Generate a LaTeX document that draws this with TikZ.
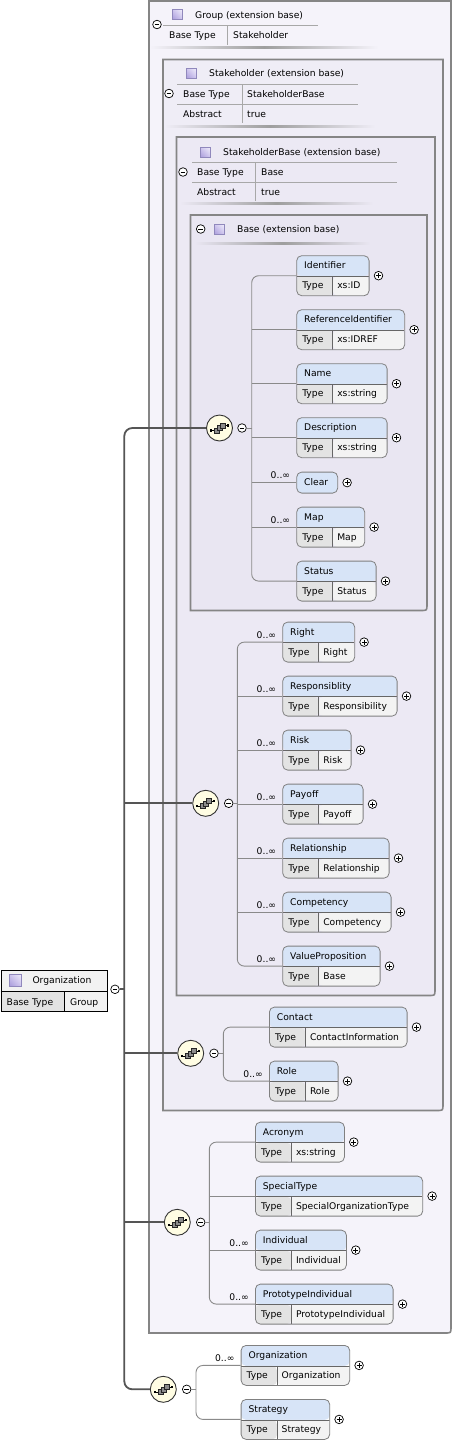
\documentclass[tikz,border=0pt]{standalone}
\usepackage{fontspec}
\setmainfont{DejaVu Sans}
\usetikzlibrary{calc,shadings}
\definecolor{hdrc}{HTML}{D7E4F7}
\definecolor{tyc}{HTML}{E3E3E3}
\definecolor{vac}{HTML}{F3F3F3}
\definecolor{bordc}{HTML}{808080}
\definecolor{connc}{HTML}{8A8A8A}
\definecolor{mainc}{HTML}{555555}
\definecolor{frc}{HTML}{858585}
\definecolor{fa}{HTML}{F5F3FA}
\definecolor{fb}{HTML}{EFEDF6}
\definecolor{fcc}{HTML}{ECE9F4}
\definecolor{fd}{HTML}{E9E6F2}
\definecolor{hlc}{HTML}{A8A8A8}
\definecolor{seqf}{HTML}{FFFDE3}
\definecolor{rooth}{HTML}{F2F2F2}
\definecolor{sqdark}{HTML}{A99BDB}
\definecolor{sqmid}{HTML}{CFC6EE}
\definecolor{sqlight}{HTML}{F1EEFB}
\definecolor{sqbord}{HTML}{9088BC}
\newcommand\fs{\fontsize{9.2}{11}\selectfont}
\tikzset{
  txt/.style={inner sep=0pt, anchor=base west, font=\fs, text=black},
  ebx/.style={rectangle, rounded corners=5pt, draw=bordc, line width=0.8pt, inner sep=0pt,
    minimum height=40pt, anchor=north west, path picture={
      \fill[hdrc] (path picture bounding box.north west) rectangle ([yshift=-20.5pt]path picture bounding box.north east);
      \fill[tyc] ([yshift=-20.5pt]path picture bounding box.north west) rectangle ([xshift=36pt]path picture bounding box.south west);
      \fill[vac] ([xshift=36pt,yshift=-20.5pt]path picture bounding box.north west) rectangle (path picture bounding box.south east);
      \draw[draw=black!60, line width=0.8pt] ([yshift=-20.5pt]path picture bounding box.north west) -- ([yshift=-20.5pt]path picture bounding box.north east);
      \draw[draw=black!60, line width=0.8pt] ([xshift=36pt,yshift=-20.5pt]path picture bounding box.north west) -- ([xshift=36pt]path picture bounding box.south west);
    }},
  obx/.style={rectangle, rounded corners=5pt, draw=bordc, line width=0.8pt, inner sep=0pt,
    minimum height=21pt, anchor=north west, fill=hdrc},
  pmc/.style={circle, draw=black, fill=white, line width=0.7pt, inner sep=0pt, minimum size=8.6pt},
  pml/.style={draw=black, line width=0.7pt},
  seqc/.style={circle, draw=black!80, fill=seqf, line width=0.9pt, inner sep=0pt, minimum size=26pt},
  conn/.style={draw=connc, line width=0.9pt},
  mainl/.style={draw=mainc, line width=1.8pt},
  hline/.style={draw=hlc, line width=0.8pt},
  sqicon/.style={draw=sqbord, line width=0.5pt},
}
\newcommand\ebox[6]{%
  \node[ebx, minimum width=#4pt] (#1) at (#2,#3) {};
  \node[txt] at ($(#2,#3)+(7.7,13.6)$) {#5};
  \node[txt] at ($(#2,#3)+(5.8,33.6)$) {Type};
  \node[txt] at ($(#2,#3)+(40.8,33.6)$) {#6};
}
\newcommand\onebox[5]{%
  \node[obx, minimum width=#4pt] (#1) at (#2,#3) {};
  \node[txt] at ($(#2,#3)+(7.7,13.9)$) {#5};
}
\newcommand\plusat[2]{%
  \node[pmc] (#1) at (#2) {};
  \draw[pml] ($(#1)+(-2.4,0)$) -- ($(#1)+(2.4,0)$);
  \draw[pml] ($(#1)+(0,-2.4)$) -- ($(#1)+(0,2.4)$);
}
\newcommand\minusat[2]{%
  \node[pmc] (#1) at (#2) {};
  \draw[pml] ($(#1)+(-2.4,0)$) -- ($(#1)+(2.4,0)$);
}
\newcommand\mult[1]{\node[txt, anchor=base east] at ($(#1.west)+(-6,-4)$) {0..∞};}
\newcommand\seqat[3]{%
  \node[seqc] (#1) at (#2,#3) {};
  \begin{scope}[shift={(#2,#3)}]
    \draw[black, line width=0.6pt] (-8.5,2.5) -- (-4,2.5);
    \fill[black] (-9.6,1.4) rectangle (-7.4,3.6);
    \draw[black, line width=0.6pt] (4,-2.5) -- (8.5,-2.5);
    \fill[black] (7.4,-3.6) rectangle (9.6,-1.4);
    \filldraw[fill=black!45, draw=black!85, line width=0.5pt] (-5.5,0) rectangle (-0.5,5);
    \filldraw[fill=black!45, draw=black!85, line width=0.5pt] (-2.5,-2.5) rectangle (2.5,2.5);
    \filldraw[fill=black!45, draw=black!85, line width=0.5pt] (0.5,-5) rectangle (5.5,0);
  \end{scope}
}
\newcommand\sqat[3]{% x, y, size
  \shade[upper left=sqmid, upper right=sqlight, lower left=sqdark, lower right=sqmid]
    (#1,#2) rectangle (#1+#3,#2+#3);
  \draw[sqicon] (#1,#2) rectangle (#1+#3,#2+#3);
}
\newcommand\frameat[5]{%
  \filldraw[fill=#5, draw=frc, line width=1.6pt]
    (#1,#2) -- (#3,#2) -- (#3,#4-6) .. controls (#3,#4) .. (#3-6,#4) -- (#1,#4) -- cycle;
}
\newcommand\hshadow[4]{%
  \shade[left color=#4, right color=#4, middle color=black!38] (#1,#3-1) rectangle (#2,#3+1);
}
\begin{document}
\begin{tikzpicture}[x=1pt,y=-1pt]
\useasboundingbox (0,0) rectangle (453,1444);
\fill[white] (0,0) rectangle (453,1444);

% ---------- frames ----------
\frameat{149}{1}{451}{1333}{fa}
\frameat{163}{59.5}{443}{1110.5}{fb}
\frameat{176.5}{137}{435}{995.5}{fcc}
\frameat{190.5}{215}{427}{610.5}{fd}

% ---------- Group header ----------
\minusat{hg}{157,24.5}
\sqat{172}{9}{10}
\node[txt] at (195,18) {Group (extension base)};
\draw[hline] (163,25) -- (318,25);
\node[txt] at (169,38.4) {Base Type};
\draw[hline] (227,25) -- (227,45);
\node[txt] at (233,38.4) {Stakeholder};
\hshadow{150}{378}{47}{fa}

% ---------- Stakeholder header ----------
\minusat{hs}{169,93.5}
\sqat{186}{68}{10}
\node[txt] at (209,76.4) {Stakeholder (extension base)};
\draw[hline] (177,84) -- (358,84);
\draw[hline] (177,104) -- (358,104);
\draw[hline] (242,84) -- (242,123);
\node[txt] at (183,97.4) {Base Type};
\node[txt] at (247,97.4) {StakeholderBase};
\node[txt] at (183,117) {Abstract};
\node[txt] at (247,117) {true};
\hshadow{165}{375}{126}{fb}

% ---------- StakeholderBase header ----------
\minusat{hb}{183,172}
\sqat{200}{147}{10}
\node[txt] at (223,155.4) {StakeholderBase (extension base)};
\draw[hline] (192,162) -- (397,162);
\draw[hline] (192,182) -- (397,182);
\draw[hline] (255,162) -- (255,201);
\node[txt] at (197,175.4) {Base Type};
\node[txt] at (261,175.4) {Base};
\node[txt] at (197,195.4) {Abstract};
\node[txt] at (261,195.4) {true};
\hshadow{180}{373}{203}{fcc}

% ---------- Base header ----------
\minusat{hbb}{200.7,229}
\sqat{214}{224}{10}
\node[txt] at (237,232.4) {Base (extension base)};
\hshadow{195}{370}{243}{fd}

% ---------- root ----------
\fill[rooth] (0.5,969.5) rectangle (106.5,991);
\fill[tyc] (0.5,991) rectangle (64.3,1010.5);
\fill[rooth] (64.3,991) rectangle (106.5,1010.5);
\node[draw=black, line width=0.8pt, inner sep=0pt, minimum width=106pt, minimum height=41pt, anchor=north west] (root) at (0.5,969.5) {};
\draw[black, line width=0.8pt] (0.5,991) -- (106.5,991);
\draw[black, line width=0.8pt] (64.3,991) -- (64.3,1010.5);
\sqat{9.5}{974}{12}
\node[txt] at (32.3,983.4) {Organization};
\node[txt] at (6.5,1005) {Base Type};
\node[txt] at (70,1005) {Group};
\minusat{rm}{115,989.3}

% ---------- sequence icons ----------
\seqat{s1}{219.5}{428}
\minusat{m1}{242,428}
\seqat{s2}{205.7}{803.3}
\minusat{m2}{228.7,803.3}
\seqat{s3}{190.7}{1053.3}
\minusat{m3}{214,1053.3}
\seqat{s4}{177.3}{1222.3}
\minusat{m4}{200.7,1222.3}
\seqat{s5}{163.3}{1389.3}
\minusat{m5}{186.7,1389.3}

% ---------- elements: Base ----------
\ebox{ident}{296.3}{255.3}{72.4}{Identifier}{xs:ID}
\ebox{refid}{296.3}{309.3}{108}{ReferenceIdentifier}{xs:IDREF}
\ebox{ename}{296.3}{363.3}{90.4}{Name}{xs:string}
\ebox{desc}{296.3}{417.3}{90.4}{Description}{xs:string}
\onebox{clear}{296.3}{471.7}{41}{Clear}
\ebox{emap}{296.3}{506.7}{68}{Map}{Map}
\ebox{status}{296.3}{560.7}{79.4}{Status}{Status}
\mult{clear}\mult{emap}

% ---------- elements: Stakeholder ----------
\ebox{right}{282.3}{621.7}{72}{Right}{Right}
\ebox{resp}{282.3}{675.7}{114.4}{Responsiblity}{Responsibility}
\ebox{risk}{282.3}{729.7}{68.4}{Risk}{Risk}
\ebox{payoff}{282.3}{783.7}{80.4}{Payoff}{Payoff}
\ebox{relat}{282.3}{837.7}{106.4}{Relationship}{Relationship}
\ebox{compet}{282.3}{891.7}{108.4}{Competency}{Competency}
\ebox{valprop}{282.3}{945.7}{97.4}{ValueProposition}{Base}
\mult{right}\mult{resp}\mult{risk}\mult{payoff}\mult{relat}\mult{compet}\mult{valprop}

% ---------- elements: Contact ----------
\ebox{contact}{269}{1006.7}{137.7}{Contact}{ContactInformation}
\ebox{role}{269}{1060.7}{68.7}{Role}{Role}
\mult{role}

% ---------- elements: Group ----------
\ebox{acronym}{255}{1121.7}{89}{Acronym}{xs:string}
\ebox{special}{255}{1175.7}{167.3}{SpecialType}{SpecialOrganizationType}
\ebox{indiv}{255}{1229.7}{91}{Individual}{Individual}
\ebox{proto}{255}{1283.7}{137.7}{PrototypeIndividual}{PrototypeIndividual}
\mult{indiv}\mult{proto}

% ---------- elements: Organization ----------
\ebox{org}{240.7}{1345}{108.6}{Organization}{Organization}
\ebox{strat}{240.7}{1399}{88.6}{Strategy}{Strategy}
\mult{org}

% ---------- plus marks ----------
\foreach \e in {ident,refid,ename,desc,clear,emap,status,right,resp,risk,payoff,relat,compet,valprop,contact,role,acronym,special,indiv,proto,org,strat}{
  \plusat{\e p}{$(\e.east)+(9,0)$}
}

% ---------- connectors ----------
\coordinate (t1) at (251.7,428);
\draw[conn, rounded corners=7pt] (ident.west) -- (ident.west -| t1) -- (status.west -| t1) -- (status.west);
\foreach \e in {refid,ename,desc,clear,emap}{\draw[conn] (\e.west -| t1) -- (\e.west);}
\draw[conn] (m1.east) -- (t1);

\coordinate (t2) at (237.3,803.3);
\draw[conn, rounded corners=7pt] (right.west) -- (right.west -| t2) -- (valprop.west -| t2) -- (valprop.west);
\foreach \e in {resp,risk,payoff,relat,compet}{\draw[conn] (\e.west -| t2) -- (\e.west);}
\draw[conn] (m2.east) -- (t2);

\coordinate (t3) at (223.3,1053.3);
\draw[conn, rounded corners=7pt] (contact.west) -- (contact.west -| t3) -- (role.west -| t3) -- (role.west);
\draw[conn] (m3.east) -- (t3);

\coordinate (t4) at (209.3,1222.3);
\draw[conn, rounded corners=7pt] (acronym.west) -- (acronym.west -| t4) -- (proto.west -| t4) -- (proto.west);
\foreach \e in {special,indiv}{\draw[conn] (\e.west -| t4) -- (\e.west);}
\draw[conn] (m4.east) -- (t4);

\coordinate (t5) at (196,1389.3);
\draw[conn, rounded corners=7pt] (org.west) -- (org.west -| t5) -- (strat.west -| t5) -- (strat.west);
\draw[conn] (m5.east) -- (t5);

\coordinate (mt) at (124.3,989.3);
\draw[mainl, rounded corners=8pt] (s1.west) -- (s1.west -| mt) -- (s5.west -| mt) -- (s5.west);
\foreach \s in {s2,s3,s4}{\draw[mainl] (\s.west -| mt) -- (\s.west);}
\draw[mainl] (rm.east) -- (mt);
\end{tikzpicture}
\end{document}
